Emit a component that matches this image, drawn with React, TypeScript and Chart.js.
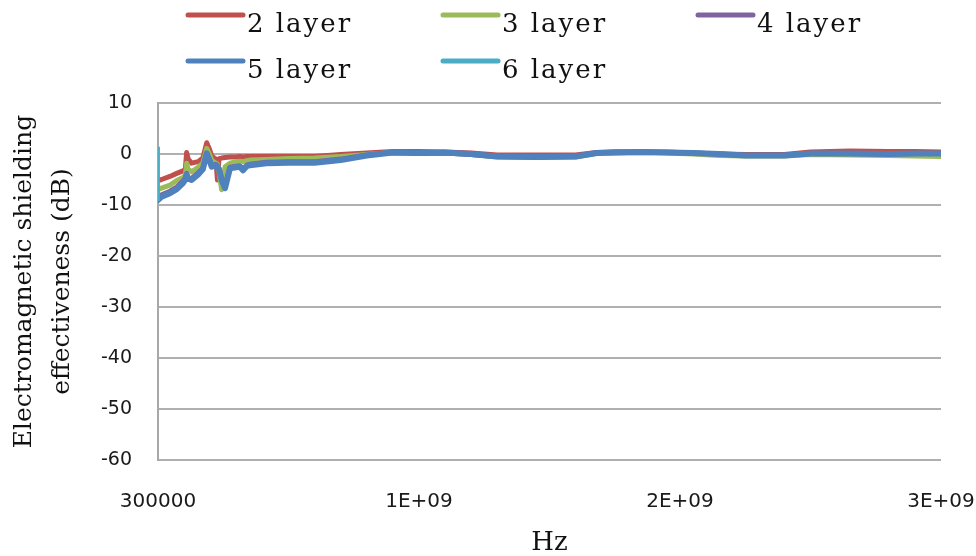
import React, { useEffect, useRef } from 'react';
import { Chart, registerables } from 'chart.js';

Chart.register(...registerables);

// ---- data ----
const FREQ_HZ = [
  3e5, 1.4e7, 4.6e7, 7.2e7, 9.6e7, 1.05e8, 1.1e8, 1.16e8, 1.29e8, 1.54e8,
  1.72e8, 1.87e8, 1.97e8, 2.06e8, 2.16e8, 2.22e8, 2.28e8, 2.34e8, 2.44e8, 2.57e8,
  2.76e8, 3.0e8, 3.14e8, 3.26e8, 3.4e8, 3.52e8, 4.16e8, 5.0e8, 6.0e8, 7.0e8,
  8.0e8, 9.0e8, 1.0e9, 1.1e9, 1.2e9, 1.3e9, 1.45e9, 1.6e9, 1.68e9, 1.75e9,
  1.85e9, 1.95e9, 2.05e9, 2.15e9, 2.25e9, 2.4e9, 2.5e9, 2.65e9, 2.8e9, 2.9e9,
  3.0e9,
];

const LAYER2_DB = [
  -5.2, -5.0, -4.4, -3.8, -3.3, -3.0, 0.3, -1.0, -1.8, -1.5,
  -0.8, 2.2, 1.0, -0.4, -0.8, -1.0, -5.1, -0.9, -0.8, -0.7,
  -0.6, -0.6, -0.5, -0.6, -0.5, -0.5, -0.5, -0.5, -0.5, -0.1,
  0.2, 0.5, 0.5, 0.4, 0.2, -0.2, -0.2, -0.2, 0.3, 0.4,
  0.4, 0.4, 0.2, 0.0, -0.1, -0.1, 0.4, 0.6, 0.5, 0.5,
  0.4,
];

const LAYER3_DB = [
  -7.0, -6.7, -6.1, -5.2, -4.6, -4.2, -1.8, -3.0, -3.5, -2.6,
  -1.8, 1.1, 0.0, -1.2, -1.6, -1.8, -2.0, -3.5, -7.0, -2.5,
  -1.8, -1.5, -1.4, -1.5, -1.3, -1.2, -1.1, -0.9, -0.8, -0.5,
  -0.1, 0.3, 0.2, 0.2, -0.1, -0.6, -0.6, -0.6, 0.1, 0.2,
  0.3, 0.2, 0.0, -0.3, -0.4, -0.4, -0.1, -0.2, -0.3, -0.4,
  -0.5,
];

const LAYER4_DB = [
  -8.6, -8.0, -7.3, -6.5, -5.3, -4.7, -3.8, -4.5, -4.8, -3.7,
  -2.8, 0.2, -1.0, -2.3, -2.1, -2.0, -2.3, -2.8, -4.8, -6.3,
  -2.6, -2.4, -2.3, -2.9, -2.2, -2.0, -1.6, -1.5, -1.5, -1.0,
  -0.2, 0.3, 0.1, 0.2, -0.1, -0.5, -0.6, -0.5, 0.2, 0.4,
  0.4, 0.3, 0.2, 0.0, -0.3, -0.2, 0.1, 0.1, 0.0, 0.1,
  0.1,
];

const LAYER5_DB = [
  -9.0, -8.4, -7.7, -6.9, -5.7, -5.0, -4.1, -4.8, -5.1, -4.0,
  -3.0, 0.1, -1.2, -2.5, -2.3, -2.2, -2.6, -3.0, -5.1, -6.7,
  -2.8, -2.6, -2.5, -3.2, -2.4, -2.2, -1.8, -1.7, -1.7, -1.2,
  -0.3, 0.3, 0.2, 0.3, 0.0, -0.5, -0.6, -0.5, 0.2, 0.3,
  0.4, 0.3, 0.2, 0.0, -0.3, -0.3, 0.1, 0.1, 0.0, 0.1,
  0.1,
];

const LAYER6_FREQ_HZ = [3e5, 1.0e6];
const LAYER6_DB = [1.4, -9.2];

const SERIES_LABELS = ['2 layer', '3 layer', '4 layer', '5 layer', '6 layer'];
const SERIES_COLORS = ['#c0504d', '#9bbb59', '#8064a2', '#4f81bd', '#4bacc6'];

const X_TICKS = [3e5, 1e9, 2e9, 3e9];
const X_TICK_LABELS = ['300000', '1E+09', '2E+09', '3E+09'];
const X_MIN = 3e5;
const X_MAX = 3e9;
const Y_MIN = -60;
const Y_MAX = 10;
const Y_STEP = 10;

const Y_TITLE = ['Electromagnetic shielding', 'effectiveness (dB)'];
const X_TITLE = 'Hz';

// ---- helpers ----
const toPoints = (xs: number[], ys: number[]) => xs.map((x, i) => ({ x, y: ys[i] }));

const legendPlugin = {
  id: 'layerLegend',
  afterDraw(chart: any) {
    const ctx = chart.ctx as CanvasRenderingContext2D;
    ctx.save();
    const startX = 188;
    const colW = 255;
    const lineY0 = 15;
    const rowH = 46;
    const lineLen = 55;
    chart.data.datasets.forEach((ds: any, i: number) => {
      const col = i % 3;
      const row = Math.floor(i / 3);
      const x = startX + col * colW;
      const y = lineY0 + row * rowH;
      ctx.beginPath();
      ctx.lineCap = 'round';
      ctx.lineWidth = 5;
      ctx.strokeStyle = ds.borderColor;
      ctx.moveTo(x, y);
      ctx.lineTo(x + lineLen, y);
      ctx.stroke();
      ctx.fillStyle = '#111111';
      ctx.font = '26px "DejaVu Serif"';
      (ctx as any).letterSpacing = '2px';
      ctx.textAlign = 'left';
      ctx.textBaseline = 'alphabetic';
      ctx.fillText(ds.label, x + lineLen + 4, y + 17);
    });
    ctx.restore();
  },
};

export default function App() {
  const canvasRef = useRef<HTMLCanvasElement | null>(null);

  useEffect(() => {
    const canvas = canvasRef.current;
    if (!canvas) return;
    const seriesValues = [LAYER2_DB, LAYER3_DB, LAYER4_DB, LAYER5_DB];
    const widths = [5, 5, 5, 6];
    const orders = [4, 3, 2, 1];
    const datasets: any[] = seriesValues.map((vals, i) => ({
      label: SERIES_LABELS[i],
      data: toPoints(FREQ_HZ, vals),
      borderColor: SERIES_COLORS[i],
      backgroundColor: SERIES_COLORS[i],
      borderWidth: widths[i],
      pointRadius: 0,
      tension: 0,
      borderJoinStyle: 'round',
      borderCapStyle: 'round',
      order: orders[i],
      fill: false,
    }));
    datasets.push({
      label: SERIES_LABELS[4],
      data: toPoints(LAYER6_FREQ_HZ, LAYER6_DB),
      borderColor: SERIES_COLORS[4],
      backgroundColor: SERIES_COLORS[4],
      borderWidth: 3.5,
      pointRadius: 0,
      tension: 0,
      borderCapStyle: 'butt',
      order: 0,
      fill: false,
    });

    const chart = new Chart(canvas, {
      type: 'line',
      data: { datasets },
      plugins: [legendPlugin],
      options: {
        animation: false,
        responsive: false,
        devicePixelRatio: 1,
        layout: { padding: { top: 103, right: 35, bottom: 0, left: 0 } },
        plugins: {
          legend: { display: false },
          tooltip: { enabled: false },
        },
        scales: {
          x: {
            type: 'linear',
            min: X_MIN,
            max: X_MAX,
            afterBuildTicks: (scale: any) => {
              scale.ticks = X_TICKS.map((v) => ({ value: v }));
            },
            afterFit: (scale: any) => {
              scale.height = 96;
              scale.paddingLeft = 0;
              scale.paddingRight = 0;
            },
            grid: { display: false, drawTicks: false },
            border: { display: false },
            ticks: {
              autoSkip: false,
              maxRotation: 0,
              padding: 30,
              color: '#1a1a1a',
              font: { family: '"DejaVu Sans"', size: 20 },
              callback: (_v: any, index: number) => X_TICK_LABELS[index],
            },
            title: {
              display: true,
              text: X_TITLE,
              color: '#111111',
              font: { family: '"DejaVu Serif"', size: 26, lineHeight: 1 },
              padding: { top: 0, bottom: 0 },
            },
          },
          y: {
            type: 'linear',
            min: Y_MIN,
            max: Y_MAX,
            afterFit: (scale: any) => {
              scale.width = 158;
              scale.paddingTop = 0;
              scale.paddingBottom = 0;
            },
            grid: { color: '#b0b0b0', lineWidth: 2, drawTicks: false },
            border: { display: true, color: '#a8a8a8', width: 2 },
            ticks: {
              stepSize: Y_STEP,
              padding: 26,
              color: '#1a1a1a',
              font: { family: '"DejaVu Sans"', size: 19 },
            },
            title: {
              display: true,
              text: Y_TITLE,
              color: '#111111',
              font: { family: '"DejaVu Serif"', size: 25, lineHeight: 1.5 },
              padding: { top: 6, bottom: 0 },
            },
          },
        },
      } as any,
    });
    return () => chart.destroy();
  }, []);

  return (
    <div style={{ position: 'fixed', left: 0, top: 0, width: 976, height: 556, background: '#ffffff' }}>
      <canvas ref={canvasRef} width={976} height={556} style={{ display: 'block', width: 976, height: 556 }} />
    </div>
  );
}
